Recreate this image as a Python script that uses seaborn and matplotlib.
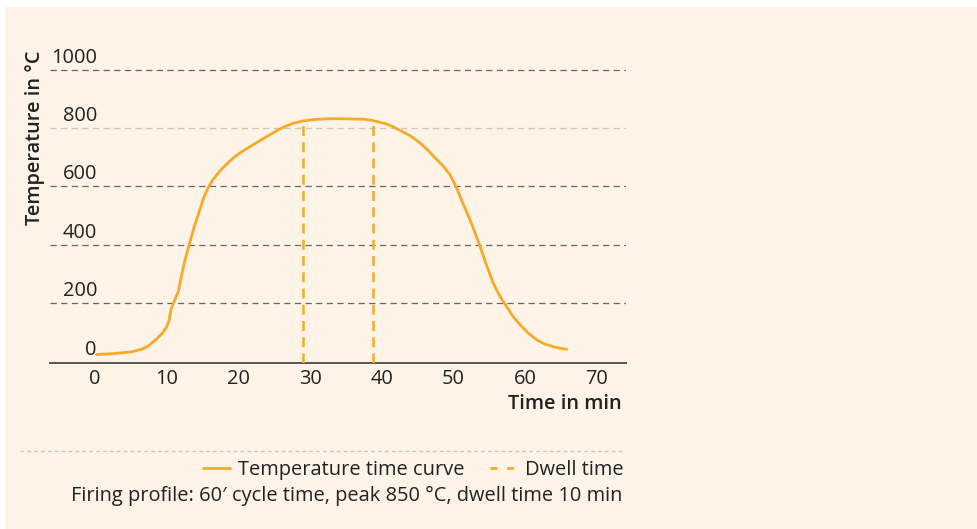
import numpy as np
import pandas as pd
import matplotlib
matplotlib.use("Agg")
import matplotlib.pyplot as plt
from matplotlib.patches import Rectangle
from matplotlib.lines import Line2D
from matplotlib.transforms import blended_transform_factory, ScaledTranslation
import seaborn as sns

# ---- data ----
time_min = [0.2, 2.5, 5.0, 6.5, 7.5, 8.6, 9.4, 10.0, 10.3, 10.6, 11.0, 11.6, 12.1, 12.5,
            12.8, 13.2, 13.8, 14.6, 15.2, 15.8, 16.4, 17.0, 17.6, 18.2, 18.8, 19.3,
            20.0, 20.8, 21.6, 23.0, 24.4, 25.5, 26.3, 27.5, 28.8, 30.5, 33.0, 35.5,
            37.5, 38.6, 39.5, 40.5, 41.5, 42.5, 44.0, 45.3, 46.5, 47.6, 48.6, 49.5,
            50.4, 51.3, 52.3, 53.0, 53.7, 54.6, 55.5, 56.4, 57.4, 58.3, 59.3, 60.4,
            61.6, 62.7, 64.0, 65.0, 65.8]
temp_c = [24, 27, 33, 42, 55, 78, 98, 120, 140, 180, 205, 240, 300, 345,
          371, 407, 460, 520, 565, 597, 622, 641, 658, 673, 687, 698,
          711, 724, 736, 757, 777, 793, 803, 815, 823, 829, 832, 831,
          830, 826, 821, 815, 805, 792, 773, 749, 722, 693, 668, 640,
          596, 542, 485, 440, 394, 330, 270, 226, 188, 154, 125, 98,
          74, 60, 50, 45, 42]
dwell_times = [29.0, 38.8]
x_ticks = [0, 10, 20, 30, 40, 50, 60, 70]
y_ticks = [0, 200, 400, 600, 800, 1000]
grid_dark = [200, 400, 600, 1000]
grid_light = [800]

curve_label = "Temperature time curve"
dwell_label = "Dwell time"
x_label = "Time in min"
y_label = "Temperature in °C"
caption = "Firing profile: 60\u2032 cycle time, peak 850 °C, dwell time 10 min"

# ---- style ----
sns.set_style("white")
plt.rcParams['font.family'] = ['Open Sans', 'DejaVu Sans']
BG = '#FDF3E6'
ORANGE = '#F7AA2A'
TXT = '#222222'
FS = 14.4

fig = plt.figure(figsize=(9.77, 5.29), dpi=100, facecolor='white')
fig.patches.append(Rectangle((5 / 977, 0), 1, (529 - 7) / 529, transform=fig.transFigure,
                             facecolor=BG, edgecolor='none', zorder=-10))

W, H = 977, 529
left, right = 50, 626
top, bottom = 55, 363
ax = fig.add_axes([left / W, 1 - bottom / H, (right - left) / W, (bottom - top) / H])
ax.set_facecolor('none')

df = pd.DataFrame({"t": time_min, "T": temp_c})
sns.lineplot(data=df, x="t", y="T", ax=ax, color=ORANGE, linewidth=2.0, zorder=5,
             sort=False)

xmin, xmax = -6.3, 74.05
ymin, ymax = -5, 1050
ax.set_xlim(xmin, xmax)
ax.set_ylim(ymin, ymax)

# dwell lines
tops = np.interp(dwell_times, time_min, temp_c)
ax.vlines(dwell_times, ymin, tops, colors=ORANGE, linewidth=1.8,
          linestyles=(0, (4, 2.5)), zorder=4)

# grid lines
for v in grid_dark:
    ax.axhline(v, color='#666666', linewidth=0.9, linestyle=(0, (5, 3.5)), zorder=1)
for v in grid_light:
    ax.axhline(v, color='#c9c6c0', linewidth=0.9, linestyle=(0, (5, 3.5)), zorder=1)

# spines
for s in ['top', 'right', 'left']:
    ax.spines[s].set_visible(False)
ax.spines['bottom'].set_color('#555555')
ax.spines['bottom'].set_linewidth(1.4)

ax.set_xticks(x_ticks)
ax.set_xticklabels([str(v) for v in x_ticks], fontsize=FS, color=TXT)
ax.tick_params(axis='x', length=0, pad=4)
ax.set_yticks([])
ax.set_xlabel("")
ax.set_ylabel("")

# y tick labels sitting above the gridlines, inside the axes
trans = blended_transform_factory(ax.transAxes, ax.transData)
for v in y_ticks:
    ax.text(47 / (right - left), v, str(v),
            transform=trans + ScaledTranslation(0, 0.12, fig.dpi_scale_trans),
            ha='right', va='center', fontsize=FS, color=TXT)

fig.text(35 / W, 1 - 138 / H, y_label, rotation=90, ha='center', va='center',
         fontsize=FS, fontweight='semibold', color=TXT)
fig.text(622 / W, 1 - 404 / H, x_label, ha='right', va='center',
         fontsize=FS, fontweight='semibold', color=TXT)

# separator
fig.add_artist(Line2D([20 / W, 625 / W], [1 - 451 / H, 1 - 451 / H], transform=fig.transFigure,
                      color='#c9c6c0', linewidth=0.9, linestyle=(0, (3, 2.5))))

# legend
h1 = Line2D([], [], color=ORANGE, linewidth=2.0)
h2 = Line2D([], [], color=ORANGE, linewidth=2.0, linestyle=(0, (2.5, 3.5)))
leg = fig.legend([h1, h2], [curve_label, dwell_label], ncol=2, frameon=False,
                 loc='center right', bbox_to_anchor=(624 / W, 1 - 470 / H),
                 fontsize=FS, handlelength=1.35, handletextpad=0.4, columnspacing=1.3,
                 borderaxespad=0, borderpad=0)
for t in leg.get_texts():
    t.set_color(TXT)

fig.text(622 / W, 1 - 496 / H, caption, ha='right', va='center', fontsize=FS, color=TXT)

fig.savefig("out.png", dpi=100, facecolor=fig.get_facecolor())
